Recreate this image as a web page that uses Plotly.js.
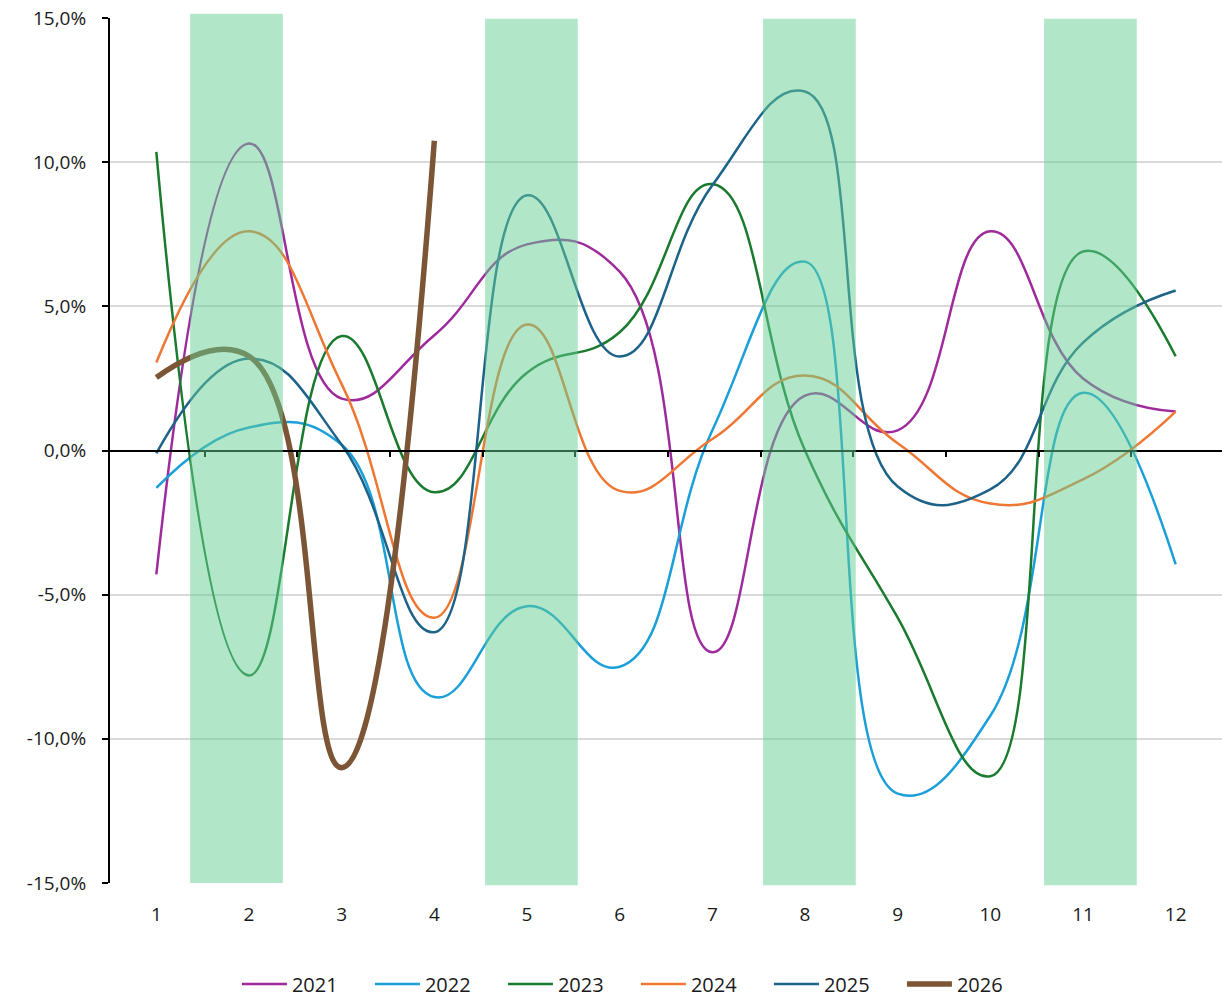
<!DOCTYPE html>
<html>
<head>
<meta charset="utf-8">
<script src="https://cdn.plot.ly/plotly-3.0.1.min.js"></script>
<style>html,body{margin:0;padding:0;background:#fff;}#chart{width:1222px;height:999px;}</style>
</head>
<body>
<div id="chart"></div>
<script>
// ---- data ----
var months = [1, 2, 3, 4, 5, 6, 7, 8, 9, 10, 11, 12];
var monthLabels = ["1", "2", "3", "4", "5", "6", "7", "8", "9", "10", "11", "12"];
var seriesNames = ["2021", "2022", "2023", "2024", "2025", "2026"];
var y2021 = [-4.3, 10.65, 1.8, 4.0, 7.15, 6.2, -7.0, 1.9, 0.7, 7.6, 2.5, 1.35];
var y2022 = [-1.3, 0.8, 0.2, -8.55, -5.4, -7.5, 0.7, 6.55, -11.9, -9.2, 2.0, -3.95];
var y2023 = [10.36, -7.8, 3.97, -1.45, 2.7, 4.1, 9.24, 0.0, -5.8, -11.3, 6.9, 3.27];
var y2024 = [3.05, 7.6, 2.3, -5.8, 4.37, -1.4, 0.4, 2.6, 0.25, -1.84, -1.0, 1.35];
var y2025 = [-0.1, 3.19, 0.2, -6.3, 8.85, 3.26, 9.2, 12.45, -1.25, -1.35, 3.74, 5.55];
var y2026 = [2.53, 3.27, -11.0, 10.74];
var yTickVals = [15, 10, 5, 0, -5, -10, -15];
var yTickLabels = ["15,0%", "10,0%", "5,0%", "0,0%", "-5,0%", "-10,0%", "-15,0%"];
// highlighted months (green bands)
var bandMonths = [2, 5, 8, 11];
var bandShift = [-0.135, 0.048, 0.048, 0.08];

// ---- styling ----
var colors = ["#9E2A9C", "#1B9FD8", "#1A7A2E", "#EE7733", "#1D6389", "#7B5535"];
var widths = [2.5, 2.5, 2.5, 2.5, 2.5, 5.5];
var allY = [y2021, y2022, y2023, y2024, y2025, y2026];
var FONT = "'Open Sans', 'Noto Sans', sans-serif";

var traces = allY.map(function (ys, i) {
  return {
    type: "scatter",
    mode: "lines",
    name: seriesNames[i],
    x: months.slice(0, ys.length),
    y: ys,
    line: { color: colors[i], width: widths[i], shape: "spline", smoothing: 1.3 },
    hoverinfo: "x+y+name"
  };
});
// dummy trace for the zero-line tick axis
traces.push({ type: "scatter", mode: "lines", x: [null], y: [null], xaxis: "x2", yaxis: "y", showlegend: false, hoverinfo: "skip" });

var boundaryTicks = months.slice(0, 11).map(function (m) { return m + 0.52; });

var shapes = bandMonths.map(function (m, i) {
  return {
    type: "rect", layer: "above",
    xref: "x", yref: "paper",
    x0: m - 0.5 + bandShift[i], x1: m + 0.5 + bandShift[i],
    y0: i === 0 ? 0 : -0.0025, y1: i === 0 ? 1.005 : 0.999,
    fillcolor: "rgb(100,205,147)", opacity: 0.5,
    line: { width: 0 }
  };
});

var layout = {
  width: 1222, height: 999,
  margin: { l: 110, r: 0, t: 18, b: 116 },
  paper_bgcolor: "#ffffff", plot_bgcolor: "#ffffff",
  font: { family: FONT, size: 19, color: "#1a1a1a" },
  showlegend: true,
  legend: {
    orientation: "h", xref: "container", yref: "container",
    x: 0.5204, xanchor: "center", y: 0.015, yanchor: "middle",
    font: { family: FONT, size: 20, color: "#1a1a1a" },
    entrywidth: 73, entrywidthmode: "pixels", itemwidth: 45,
    traceorder: "normal"
  },
  xaxis: {
    range: [0.5, 12.5], tickmode: "array", tickvals: months, ticktext: monthLabels,
    showgrid: false, zeroline: false, showline: false, ticks: "",
    ticklabelstandoff: 18, tickfont: { family: FONT, size: 19, color: "#1a1a1a" },
    fixedrange: true
  },
  xaxis2: {
    overlaying: "x", anchor: "free", position: 0.5, side: "bottom",
    range: [0.5, 12.5], tickmode: "array", tickvals: boundaryTicks,
    showticklabels: false, ticks: "outside", ticklen: 5, tickwidth: 2, tickcolor: "#000",
    showline: true, linecolor: "#000", linewidth: 2,
    showgrid: false, zeroline: false
  },
  yaxis: {
    range: [-15, 15], tickmode: "array", tickvals: yTickVals, ticktext: yTickLabels,
    showgrid: true, gridcolor: "#d9d9d9", gridwidth: 2,
    zeroline: true, zerolinecolor: "#000", zerolinewidth: 2,
    showline: true, linecolor: "#000", linewidth: 2,
    ticks: "outside", ticklen: 6, tickwidth: 2, tickcolor: "#000",
    ticklabelstandoff: 12, tickfont: { family: FONT, size: 19, color: "#1a1a1a" },
    fixedrange: true
  },
  shapes: shapes
};

Plotly.newPlot("chart", traces, layout, { displayModeBar: false, staticPlot: true });
</script>
</body>
</html>
